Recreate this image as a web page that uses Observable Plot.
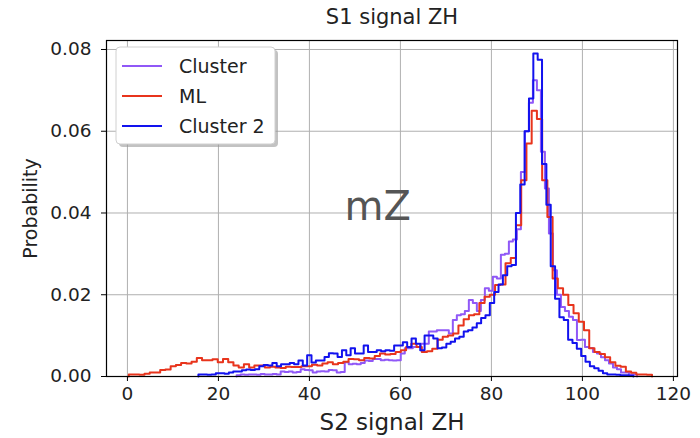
<!DOCTYPE html>
<html><head><meta charset="utf-8">
<script src="https://cdn.jsdelivr.net/npm/d3@7"></script>
<script src="https://cdn.jsdelivr.net/npm/@observablehq/plot@0.6"></script>
<style>body{margin:0;background:#fff;font-family:"DejaVu Sans",sans-serif}</style>
</head><body><div id="chart"></div>
<script>
const seriesNames = ["Cluster", "ML", "Cluster 2"];
const seriesColors = ["#9058f7", "#e8341c", "#1212ee"];
const xTicks = [0, 20, 40, 60, 80, 100, 120];
const yTicks = [0, 0.02, 0.04, 0.06, 0.08];

// Cluster (purple): bins start 24, width 0.88
const clusterStart = 24.0, clusterWidth = 0.88;
const clusterValues = [
0.0003,0.0005,0.0004,0.0005,0.0005,0.0004,0.0006,0.0005,0.0005,0.0006,
0.0005,0.0012,0.0011,0.0012,0.0010,0.0011,0.0018,0.0016,0.0015,0.0010,
0.0012,0.0013,0.0012,0.0016,0.0015,0.0010,0.0011,0.0035,0.0030,0.0031,
0.0030,0.0033,0.0039,0.0038,0.0043,0.0043,0.0040,0.0041,0.0040,0.0039,
0.0040,0.0056,0.0069,0.0069,0.0072,0.0072,0.0080,0.0080,0.0110,0.0110,
0.0113,0.0113,0.0113,0.0105,0.0138,0.0150,0.0152,0.0160,0.0187,0.0180,
0.0160,0.0187,0.0216,0.0210,0.0244,0.0240,0.0298,0.0300,0.0330,0.0335,
0.0360,0.0500,0.0600,0.0670,0.0725,0.0700,0.0550,0.0460,0.0350,0.0260,
0.0200,0.0170,0.0160,0.0146,0.0138,0.0089,0.0090,0.0072,0.0070,0.0060,
0.0056,0.0047,0.0040,0.0032,0.0022,0.0018,0.0010,0.0010,0.0005,0.0005];

// ML (red): bins start 0.3, width 1.15
const mlStart = 0.3, mlWidth = 1.15;
const mlValues = [
0.0005,0.0005,0.0004,0.0007,0.0010,0.0010,0.0016,0.0017,0.0025,0.0028,
0.0033,0.0032,0.0036,0.0045,0.0040,0.0040,0.0042,0.0035,0.0043,0.0035,
0.0027,0.0022,0.0030,0.0022,0.0027,0.0027,0.0022,0.0024,0.0022,0.0021,
0.0024,0.0023,0.0023,0.0025,0.0025,0.0029,0.0027,0.0032,0.0035,0.0030,
0.0033,0.0036,0.0043,0.0042,0.0040,0.0045,0.0044,0.0050,0.0056,0.0054,
0.0055,0.0060,0.0064,0.0072,0.0080,0.0072,0.0060,0.0062,0.0068,0.0090,
0.0097,0.0100,0.0105,0.0125,0.0140,0.0150,0.0152,0.0180,0.0195,0.0200,
0.0224,0.0225,0.0277,0.0290,0.0370,0.0480,0.0570,0.0650,0.0630,0.0480,
0.0390,0.0240,0.0216,0.0200,0.0175,0.0155,0.0134,0.0113,0.0069,0.0060,
0.0055,0.0047,0.0035,0.0026,0.0024,0.0012,0.0009,0.0005,0.0005,0.0004];

// Cluster 2 (blue): bins start 15.6, width 0.956
const cluster2Start = 15.6, cluster2Width = 0.956;
const cluster2Values = [
0.0005,0.0005,0.0004,0.0005,0.0008,0.0008,0.0007,0.0010,0.0012,0.0012,
0.0015,0.0017,0.0016,0.0018,0.0025,0.0028,0.0027,0.0033,0.0025,0.0030,
0.0030,0.0033,0.0030,0.0039,0.0027,0.0052,0.0034,0.0039,0.0039,0.0048,
0.0057,0.0056,0.0048,0.0064,0.0052,0.0069,0.0056,0.0056,0.0076,0.0060,
0.0060,0.0064,0.0062,0.0064,0.0063,0.0076,0.0076,0.0084,0.0072,0.0093,
0.0080,0.0064,0.0100,0.0100,0.0093,0.0069,0.0071,0.0080,0.0085,0.0093,
0.0097,0.0110,0.0113,0.0120,0.0130,0.0143,0.0150,0.0180,0.0207,0.0225,
0.0248,0.0270,0.0273,0.0400,0.0470,0.0600,0.0680,0.0790,0.0775,0.0520,
0.0420,0.0270,0.0190,0.0145,0.0138,0.0090,0.0082,0.0068,0.0050,0.0036,
0.0025,0.0020,0.0014,0.0008,0.0005,0.0005,0.0004,0.0003,0.0003,0.0002];

function steps(start, width, values, name) {
  const end = start + values.length * width;
  const pts = [{x: start, y: 0, s: name}];
  values.forEach((v, i) => pts.push({x: start + i * width, y: v, s: name}));
  pts.push({x: end, y: values[values.length - 1], s: name});
  pts.push({x: end, y: 0, s: name});
  return pts;
}
const cluster = steps(clusterStart, clusterWidth, clusterValues, seriesNames[0]);
const ml = steps(mlStart, mlWidth, mlValues, seriesNames[1]);
const cluster2 = steps(cluster2Start, cluster2Width, cluster2Values, seriesNames[2]);

const W = 700, H = 438;
const plot = Plot.plot({
  width: W, height: H,
  marginLeft: 106, marginRight: 23, marginTop: 40, marginBottom: 62,
  style: {fontFamily: "DejaVu Sans, sans-serif", background: "#fff", color: "#222"},
  x: {domain: [-4.6, 120.9], ticks: xTicks},
  y: {domain: [0, 0.0822], ticks: yTicks},
  marks: [
    Plot.gridX(xTicks, {stroke: "#b0b0b0", strokeOpacity: 1, strokeWidth: 1}),
    Plot.gridY(yTicks, {stroke: "#b0b0b0", strokeOpacity: 1, strokeWidth: 1}),
    Plot.line(cluster, {x: "x", y: "y", curve: "step-after", stroke: seriesColors[0], strokeWidth: 2}),
    Plot.line(ml, {x: "x", y: "y", curve: "step-after", stroke: seriesColors[1], strokeWidth: 2}),
    Plot.line(cluster2, {x: "x", y: "y", curve: "step-after", stroke: seriesColors[2], strokeWidth: 2}),
    Plot.frame({stroke: "#000", strokeWidth: 1.2}),
    Plot.axisX(xTicks, {tickSize: 5, tickPadding: 5, fontSize: 18.5, label: null, stroke: "#000"}),
    Plot.axisY(yTicks, {tickSize: 5, tickPadding: 10, fontSize: 18.5, label: null, tickFormat: d3.format(".2f"), stroke: "#000"}),
    Plot.text(["S1 signal ZH"], {frameAnchor: "top", lineAnchor: "middle", dy: -23, fontSize: 21, fill: "#222"}),
    Plot.text(["S2 signal ZH"], {frameAnchor: "bottom", lineAnchor: "middle", dy: 46, fontSize: 23, fill: "#222"}),
    Plot.text(["Probability"], {frameAnchor: "left", dx: -76, rotate: -90, textAnchor: "middle", fontSize: 19, fill: "#222"}),
    Plot.text(["mZ"], {x: [55], y: [0.0415], fontSize: 40, fill: "#555"})
  ]
});
document.getElementById("chart").appendChild(plot);

// legend
const svg = d3.select(plot);
const lg = svg.append("g").attr("text-anchor", "start");
lg.append("rect").attr("x", 119).attr("y", 50).attr("width", 159).attr("height", 97).attr("rx", 4).attr("fill", "#999").attr("opacity", 0.6);
lg.append("rect").attr("x", 116).attr("y", 47).attr("width", 159).attr("height", 97).attr("rx", 4).attr("fill", "#fff").attr("stroke", "#d0d0d0");
seriesNames.forEach((n, i) => {
  const y = 66 + i * 30;
  lg.append("line").attr("x1", 122).attr("x2", 162).attr("y1", y).attr("y2", y).attr("stroke", seriesColors[i]).attr("stroke-width", 2);
  lg.append("text").attr("x", 179).attr("y", y).attr("dy", "0.35em").attr("font-size", 19).attr("fill", "#222").attr("text-anchor", "start").text(n);
});
</script></body></html>
